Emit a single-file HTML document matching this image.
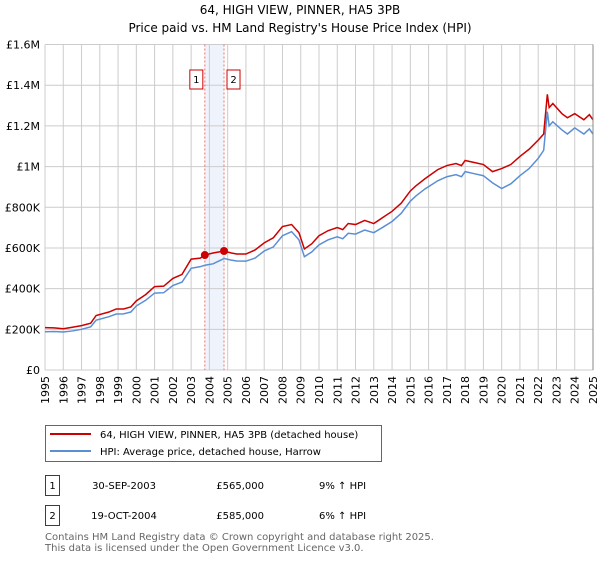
<!DOCTYPE html>
<html><head><meta charset="utf-8"><style>
body{margin:0;background:#fff;font-family:"DejaVu Sans","Liberation Sans",sans-serif}
svg text{font-family:"DejaVu Sans","Liberation Sans",sans-serif}
</style></head><body>
<svg id="chart" width="600" height="560" xmlns="http://www.w3.org/2000/svg">
<text x="300" y="14" text-anchor="middle" font-size="12">64, HIGH VIEW, PINNER, HA5 3PB</text>
<text x="300" y="32" text-anchor="middle" font-size="12">Price paid vs. HM Land Registry's House Price Index (HPI)</text>
<g id="grid"></g><g id="marks"></g><g id="axes"></g>
<g>
<rect x="45.5" y="425.5" width="336" height="36" fill="#fff" stroke="#666"/>
<line x1="50" y1="434" x2="91" y2="434" stroke="#cc0000" stroke-width="2"/>
<text x="100" y="438" font-size="10">64, HIGH VIEW, PINNER, HA5 3PB (detached house)</text>
<line x1="50" y1="451" x2="91" y2="451" stroke="#5b8fd4" stroke-width="2"/>
<text x="100" y="455" font-size="10">HPI: Average price, detached house, Harrow</text>
</g>
<g font-size="10">
<rect x="45.5" y="475.5" width="14" height="20" fill="#fff" stroke="#cc0000"/>
<text x="52.5" y="489" text-anchor="middle">1</text>
<text x="124" y="489" text-anchor="middle">30-SEP-2003</text>
<text x="264" y="489" text-anchor="end">£565,000</text>
<text x="319" y="489">9% ↑ HPI</text>
</g>
<g font-size="10">
<rect x="45.5" y="505.5" width="14" height="20" fill="#fff" stroke="#cc0000"/>
<text x="52.5" y="519" text-anchor="middle">2</text>
<text x="124" y="519" text-anchor="middle">19-OCT-2004</text>
<text x="264" y="519" text-anchor="end">£585,000</text>
<text x="319" y="519">6% ↑ HPI</text>
</g>
<text x="45" y="540" font-size="10" fill="#666">Contains HM Land Registry data © Crown copyright and database right 2025.</text>
<text x="45" y="551" font-size="10" fill="#666">This data is licensed under the Open Government Licence v3.0.</text>
</svg>
<script>
const ns="http://www.w3.org/2000/svg";
const years=[1995,1996,1997,1998,1999,2000,2001,2002,2003,2004,2005,2006,2007,2008,2009,2010,2011,2012,2013,2014,2015,2016,2017,2018,2019,2020,2021,2022,2023,2024,2025];
const yTicks=[0,200000,400000,600000,800000,1000000,1200000,1400000,1600000];
const yTickLabels=["£0","£200K","£400K","£600K","£800K","£1M","£1.2M","£1.4M","£1.6M"];
const dates=[1995.0,1995.5,1996.0,1996.5,1997.0,1997.5,1997.8,1998.5,1998.9,1999.3,1999.7,2000.0,2000.5,2001.0,2001.5,2002.0,2002.5,2003.0,2003.5,2003.75,2004.2,2004.8,2005.2,2005.5,2006.0,2006.5,2007.0,2007.5,2008.0,2008.5,2008.9,2009.2,2009.6,2010.0,2010.5,2011.0,2011.3,2011.6,2012.0,2012.5,2013.0,2013.5,2014.0,2014.5,2015.0,2015.3,2015.8,2016.5,2017.0,2017.5,2017.8,2018.0,2018.5,2019.0,2019.5,2020.0,2020.5,2021.0,2021.5,2022.0,2022.3,2022.5,2022.6,2022.8,2023.3,2023.6,2024.0,2024.5,2024.8,2025.0];
const priceK=[208,207,203,210,218,230,268,285,300,300,310,340,370,410,412,450,470,545,550,565,575,585,575,570,570,590,625,650,705,715,675,595,620,660,685,700,690,720,715,735,720,750,780,820,880,905,940,985,1005,1015,1005,1030,1020,1010,975,990,1010,1050,1085,1130,1160,1355,1290,1310,1260,1240,1260,1230,1255,1230];
const hpiK=[188,189,187,192,200,212,245,262,275,276,285,315,342,378,380,415,432,500,508,515,522,548,540,536,535,550,585,605,660,680,640,557,580,615,640,655,645,672,668,688,675,702,730,770,830,855,890,930,950,960,950,975,965,955,920,892,915,955,990,1040,1080,1270,1200,1220,1180,1160,1190,1160,1185,1160];
const sales=[[2003.75,565],[2004.8,585]];
const L=45,R=593,T=44.5,B=370;
const X=y=>L+(y-1995)/(2025-1995)*(R-L);
const Y=v=>B-v/1600000*(B-T);
const grid=document.getElementById('grid'),marks=document.getElementById('marks'),axes=document.getElementById('axes');
function mk(tag,a,p){const e=document.createElementNS(ns,tag);for(const k in a)e.setAttribute(k,a[k]);p.appendChild(e);return e;}
const band=mk('rect',{x:X(sales[0][0]),y:T,width:X(sales[1][0])-X(sales[0][0]),height:B-T,fill:'#eef3fc'},grid);


years.forEach(yr=>{const l=mk('line',{x1:X(yr),x2:X(yr),y1:T,y2:B,stroke:'#ccc'},grid);


const t=mk('text',{x:0,y:0,'font-size':11,'text-anchor':'end',transform:`translate(${X(yr)+4},${B+6}) rotate(-90)`},axes);


t.textContent=yr;});
yTicks.forEach((v,i)=>{const l=mk('line',{x1:L,x2:R,y1:Y(v),y2:Y(v),stroke:'#ccc'},grid);


const t=mk('text',{x:L-5,y:Y(v)+4,'font-size':11,'text-anchor':'end'},axes);


t.textContent=yTickLabels[i];});
sales.forEach((s,i)=>{const l=mk('line',{x1:X(s[0]),x2:X(s[0]),y1:T,y2:B,stroke:'#f07070','stroke-dasharray':'2,2'},grid);


const bx=X(s[0])-(i==0?15:-3);
const r=mk('rect',{x:bx,y:70,width:13,height:19,fill:'#fff',stroke:'#cc0000'},axes);


const t=mk('text',{x:bx+6.5,y:83,'font-size':10,'text-anchor':'middle'},axes);


t.textContent=i+1;});
mk('line',{x1:R,x2:R,y1:T,y2:B,stroke:'#888'},axes);
const pts=a=>dates.map((d,i)=>X(d)+','+Y(a[i]*1000)).join(' ');
const hp=mk('polyline',{points:pts(hpiK),fill:'none',stroke:'#5b8fd4','stroke-width':1.5},marks);


const pp=mk('polyline',{points:pts(priceK),fill:'none',stroke:'#cc0000','stroke-width':1.5},marks);


sales.forEach(s=>{const c=mk('circle',{cx:X(s[0]),cy:Y(s[1]*1000),r:4,fill:'#cc0000'},marks);

});
</script>
</body></html>
